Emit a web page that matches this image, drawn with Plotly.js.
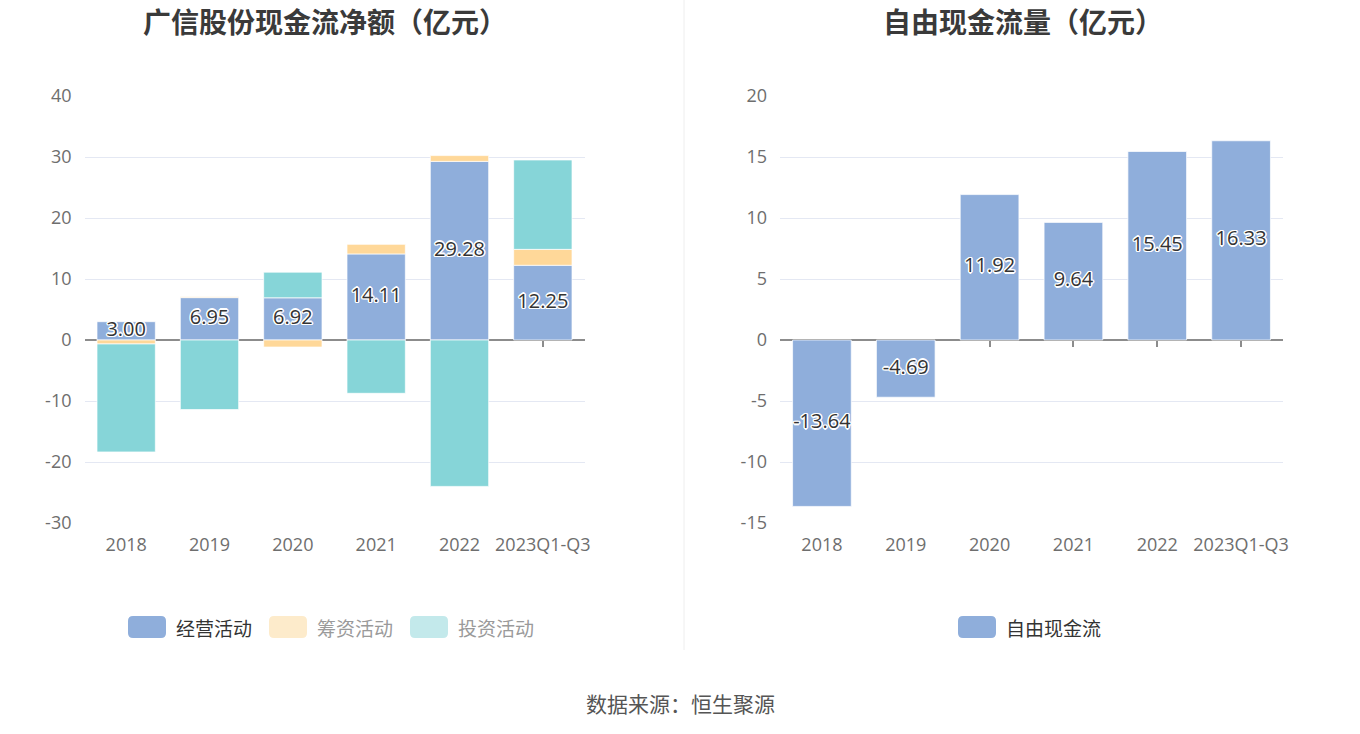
<!DOCTYPE html>
<html>
<head>
<meta charset="utf-8">
<script src="https://cdn.plot.ly/plotly-3.0.1.min.js"></script>
<style>html,body{margin:0;padding:0;background:#fff;}#chart{width:1360px;height:734px;}</style>
</head>
<body>
<div id="chart"></div>
<script>
// ---- data ----
const categories = ['2018', '2019', '2020', '2021', '2022', '2023Q1-Q3'];
const operating = [3.00, 6.95, 6.92, 14.11, 29.28, 12.25];
const financing = [-0.65, 0.15, -1.15, 1.57, 0.95, 2.61];
const investing = [-17.7, -11.4, 4.2, -8.74, -24.0, 14.65];
const freeCashFlow = [-13.64, -4.69, 11.92, 9.64, 15.45, 16.33];
const leftTicks = [-30, -20, -10, 0, 10, 20, 30, 40];
const rightTicks = [-15, -10, -5, 0, 5, 10, 15, 20];
const leftTitle = '广信股份现金流净额（亿元）';
const rightTitle = '自由现金流量（亿元）';
const seriesNames = ['经营活动', '筹资活动', '投资活动'];
const fcfName = '自由现金流';
const sourceText = '数据来源：恒生聚源';

// ---- layout helpers (pixel -> paper, margins are zero) ----
const W = 1360, H = 734;
const px = x => x / W;
const py = y => 1 - y / H;
const FONT = '"Noto Sans CJK SC", "Noto Sans", sans-serif';
const NUMFONT = '"Open Sans", "Noto Sans CJK SC", sans-serif';
const C_OP = '#8FAEDB', C_FIN = '#FFD899', C_INV = '#86D5D8';
const halo = '1px 1px 0 #fff, -1px -1px 0 #fff, 1px -1px 0 #fff, -1px 1px 0 #fff, 0 1.5px 0 #fff, 0 -1.5px 0 #fff, 1.5px 0 0 #fff, -1.5px 0 0 #fff';

const barLine = {color: 'rgba(255,255,255,0.7)', width: 1};
const labelFont = {family: NUMFONT, size: 20, color: '#333', shadow: halo};
const traces = [
  {type: 'bar', name: seriesNames[0], x: categories, y: operating, xaxis: 'x', yaxis: 'y', marker: {color: C_OP, line: barLine}, hoverinfo: 'x+y+name'},
  {type: 'bar', name: seriesNames[1], x: categories, y: financing, xaxis: 'x', yaxis: 'y', marker: {color: C_FIN, line: barLine}, hoverinfo: 'x+y+name'},
  {type: 'bar', name: seriesNames[2], x: categories, y: investing, xaxis: 'x', yaxis: 'y', marker: {color: C_INV, line: barLine}, hoverinfo: 'x+y+name'},
  {type: 'scatter', mode: 'text', x: categories, y: operating.map(v => v / 2), text: operating.map(v => v.toFixed(2)),
   textfont: labelFont, xaxis: 'x', yaxis: 'y', hoverinfo: 'skip', cliponaxis: false},
  {type: 'bar', name: fcfName, x: categories, y: freeCashFlow, xaxis: 'x2', yaxis: 'y2', marker: {color: C_OP, line: barLine}, hoverinfo: 'x+y+name'},
  {type: 'scatter', mode: 'text', x: categories, y: freeCashFlow.map(v => v / 2), text: freeCashFlow.map(v => v.toFixed(2)),
   textfont: labelFont, xaxis: 'x2', yaxis: 'y2', hoverinfo: 'skip', cliponaxis: false},
  // carriers for the zero-line tick axes
  {type: 'scatter', mode: 'markers', x: categories, y: categories.map(() => null), xaxis: 'x3', yaxis: 'y', hoverinfo: 'skip'},
  {type: 'scatter', mode: 'markers', x: categories, y: categories.map(() => null), xaxis: 'x4', yaxis: 'y2', hoverinfo: 'skip'}
];

const plotTop = 96, plotBottom = 523, zeroPx = 340;
const Ldom = [px(84.5), px(584.5)];
const Rdom = [px(780), px(1283)];
const gridColor = '#E4E8F3';
const tickFont = {family: NUMFONT, size: 18, color: '#6E6E6E'};

const xBase = {type: 'category', range: [-0.5, 5.5], showgrid: false, zeroline: false, showline: false,
  ticks: '', tickfont: tickFont, ticklabelstandoff: 9, fixedrange: true};
const xZero = {type: 'category', range: [-0.5, 5.5], showgrid: false, zeroline: false, showline: true,
  linecolor: '#8C8C8C', linewidth: 1.5, ticks: 'outside', ticklen: 6, tickwidth: 1.5, tickcolor: '#8C8C8C',
  showticklabels: false, anchor: 'free', position: py(zeroPx), layer: 'below traces'};
const yBase = {showgrid: true, gridcolor: gridColor, gridwidth: 1, zeroline: false, showline: false, ticks: '',
  tickfont: tickFont, tickmode: 'array', ticklabelstandoff: 12, domain: [py(plotBottom), py(plotTop)]};

function roundRect(x0, y0, x1, y1, r) {
  const rx = r / W, ry = r / H;
  const X0 = px(x0), X1 = px(x1), Y0 = py(y0), Y1 = py(y1);
  return `M ${X0 + rx},${Y0} L ${X1 - rx},${Y0} Q ${X1},${Y0} ${X1},${Y0 - ry} L ${X1},${Y1 + ry} Q ${X1},${Y1} ${X1 - rx},${Y1} L ${X0 + rx},${Y1} Q ${X0},${Y1} ${X0},${Y1 + ry} L ${X0},${Y0 - ry} Q ${X0},${Y0} ${X0 + rx},${Y0} Z`;
}

const legendItems = [
  {x0: 128, label: seriesNames[0], sw: C_OP, tc: '#333'},
  {x0: 269, label: seriesNames[1], sw: '#FDEBCB', tc: '#9A9A9A'},
  {x0: 410, label: seriesNames[2], sw: '#C3E9EB', tc: '#9A9A9A'},
  {x0: 958, label: fcfName, sw: C_OP, tc: '#333'}
];
const legY = 627;

const shapes = [
  {type: 'line', xref: 'paper', yref: 'paper', x0: px(684), x1: px(684), y0: py(0), y1: py(650), line: {color: '#EEEEEE', width: 1}}
];
const annotations = [
  {xref: 'paper', yref: 'paper', x: px(325), y: py(21), text: '<b>' + leftTitle + '</b>', showarrow: false, xanchor: 'center', yanchor: 'middle', font: {family: FONT, size: 28, color: '#3A3A3A'}},
  {xref: 'paper', yref: 'paper', x: px(1023), y: py(21), text: '<b>' + rightTitle + '</b>', showarrow: false, xanchor: 'center', yanchor: 'middle', font: {family: FONT, size: 28, color: '#3A3A3A'}},
  {xref: 'paper', yref: 'paper', x: px(680), y: py(703), text: sourceText, showarrow: false, xanchor: 'center', yanchor: 'middle', font: {family: FONT, size: 21, color: '#555'}}
];
legendItems.forEach(it => {
  shapes.push({type: 'path', xref: 'paper', yref: 'paper', path: roundRect(it.x0, legY - 11, it.x0 + 38, legY + 11, 5), fillcolor: it.sw, line: {width: 0}});
  annotations.push({xref: 'paper', yref: 'paper', x: px(it.x0 + 46), y: py(legY), text: it.label, showarrow: false, xanchor: 'left', yanchor: 'middle', font: {family: FONT, size: 19, color: it.tc}});
});

const layout = {
  width: W, height: H,
  margin: {l: 0, r: 0, t: 0, b: 0, pad: 0},
  paper_bgcolor: '#fff', plot_bgcolor: '#fff',
  barmode: 'relative', bargap: 0.3,
  showlegend: false,
  font: {family: FONT},
  xaxis: Object.assign({}, xBase, {domain: Ldom, anchor: 'y'}),
  xaxis2: Object.assign({}, xBase, {domain: Rdom, anchor: 'y2'}),
  xaxis3: Object.assign({}, xZero, {overlaying: 'x'}),
  xaxis4: Object.assign({}, xZero, {overlaying: 'x2'}),
  yaxis: Object.assign({}, yBase, {anchor: 'x', range: [-30, 40], tickvals: leftTicks, ticktext: leftTicks.map(String)}),
  yaxis2: Object.assign({}, yBase, {anchor: 'x2', range: [-15, 20], tickvals: rightTicks, ticktext: rightTicks.map(String)}),
  shapes: shapes,
  annotations: annotations
};

Plotly.newPlot('chart', traces, layout, {displayModeBar: false, staticPlot: false});
</script>
</body>
</html>
